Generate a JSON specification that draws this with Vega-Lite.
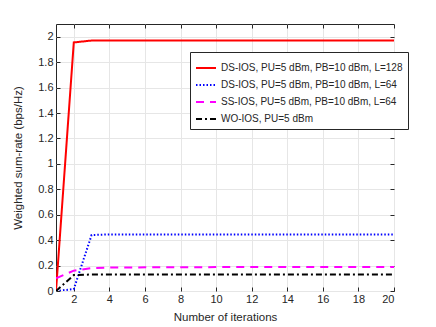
{
  "$schema": "https://vega.github.io/schema/vega-lite/v6.json",
  "autosize": "none",
  "width": 338,
  "height": 267,
  "padding": {"left": 56, "top": 24, "right": 42, "bottom": 36},
  "background": "white",
  "config": {
    "font": "Liberation Sans",
    "view": {"stroke": "#262626", "strokeWidth": 1},
    "axis": {"labelFont": "Liberation Sans", "titleFont": "Liberation Sans", "labelColor": "#262626", "titleColor": "#262626", "labelFontSize": 11, "titleFontSize": 11.5, "titleFontWeight": "normal", "domainColor": "#262626", "tickColor": "#262626", "gridColor": "#e6e6e6", "gridOpacity": 1}
  },
  "data": {
    "values": [
      {"s": "DS-IOS, PU=5 dBm, PB=10 dBm, L=128", "x": 1, "y": 0},
      {"s": "DS-IOS, PU=5 dBm, PB=10 dBm, L=128", "x": 2, "y": 1.955},
      {"s": "DS-IOS, PU=5 dBm, PB=10 dBm, L=128", "x": 3, "y": 1.97},
      {"s": "DS-IOS, PU=5 dBm, PB=10 dBm, L=128", "x": 4, "y": 1.97},
      {"s": "DS-IOS, PU=5 dBm, PB=10 dBm, L=128", "x": 10, "y": 1.97},
      {"s": "DS-IOS, PU=5 dBm, PB=10 dBm, L=128", "x": 20, "y": 1.97},
      {"s": "DS-IOS, PU=5 dBm, PB=10 dBm, L=64", "x": 1, "y": 0},
      {"s": "DS-IOS, PU=5 dBm, PB=10 dBm, L=64", "x": 2, "y": 0.015},
      {"s": "DS-IOS, PU=5 dBm, PB=10 dBm, L=64", "x": 3, "y": 0.44},
      {"s": "DS-IOS, PU=5 dBm, PB=10 dBm, L=64", "x": 4, "y": 0.445},
      {"s": "DS-IOS, PU=5 dBm, PB=10 dBm, L=64", "x": 10, "y": 0.445},
      {"s": "DS-IOS, PU=5 dBm, PB=10 dBm, L=64", "x": 20, "y": 0.445},
      {"s": "SS-IOS, PU=5 dBm, PB=10 dBm, L=64", "x": 1, "y": 0.1},
      {"s": "SS-IOS, PU=5 dBm, PB=10 dBm, L=64", "x": 2, "y": 0.16},
      {"s": "SS-IOS, PU=5 dBm, PB=10 dBm, L=64", "x": 3, "y": 0.18},
      {"s": "SS-IOS, PU=5 dBm, PB=10 dBm, L=64", "x": 4, "y": 0.185},
      {"s": "SS-IOS, PU=5 dBm, PB=10 dBm, L=64", "x": 10, "y": 0.188},
      {"s": "SS-IOS, PU=5 dBm, PB=10 dBm, L=64", "x": 20, "y": 0.188},
      {"s": "WO-IOS, PU=5 dBm", "x": 1, "y": 0},
      {"s": "WO-IOS, PU=5 dBm", "x": 2, "y": 0.125},
      {"s": "WO-IOS, PU=5 dBm", "x": 3, "y": 0.13},
      {"s": "WO-IOS, PU=5 dBm", "x": 10, "y": 0.13},
      {"s": "WO-IOS, PU=5 dBm", "x": 20, "y": 0.13}
    ]
  },
  "layer": [
    {
      "mark": {"type": "line", "strokeWidth": 2, "clip": true},
      "encoding": {
        "x": {"field": "x", "type": "quantitative", "scale": {"domain": [1, 20], "nice": false, "zero": false},
          "axis": {"title": "Number of iterations", "values": [2,4,6,8,10,12,14,16,18,20], "tickSize": -4, "labelPadding": 6, "titlePadding": 7, "domain": false}},
        "y": {"field": "y", "type": "quantitative", "scale": {"domain": [0, 2.1], "nice": false},
          "axis": {"title": "Weighted sum-rate (bps/Hz)", "values": [0,0.2,0.4,0.6,0.8,1,1.2,1.4,1.6,1.8,2], "format": "~g", "tickSize": -4, "labelPadding": 7, "titlePadding": 14, "domain": false}},
        "color": {"field": "s", "type": "nominal", "sort": null,
          "scale": {"domain": ["DS-IOS, PU=5 dBm, PB=10 dBm, L=128", "DS-IOS, PU=5 dBm, PB=10 dBm, L=64", "SS-IOS, PU=5 dBm, PB=10 dBm, L=64", "WO-IOS, PU=5 dBm"], "range": ["#ff0000", "#0000ff", "#ff00ff", "#000000"]},
          "legend": {"title": null, "orient": "none", "legendX": 134, "legendY": 28, "fillColor": "white", "strokeColor": "#262626", "padding": 5, "symbolType": "stroke", "symbolSize": 400, "symbolStrokeWidth": 2, "symbolOffset": 0, "labelOffset": 4, "labelFontSize": 10, "labelLimit": 400, "labelColor": "#262626", "rowPadding": 1, "labelFont": "Liberation Sans"}},
        "strokeDash": {"field": "s", "type": "nominal", "sort": null,
          "scale": {"domain": ["DS-IOS, PU=5 dBm, PB=10 dBm, L=128", "DS-IOS, PU=5 dBm, PB=10 dBm, L=64", "SS-IOS, PU=5 dBm, PB=10 dBm, L=64", "WO-IOS, PU=5 dBm"], "range": [[1, 0], [1.5, 2], [8, 6], [6, 3, 2, 3]]},
          "legend": {"title": null, "orient": "none", "legendX": 134, "legendY": 28, "fillColor": "white", "strokeColor": "#262626", "padding": 5, "symbolType": "stroke", "symbolSize": 400, "symbolStrokeWidth": 2, "symbolOffset": 0, "labelOffset": 4, "labelFontSize": 10, "labelLimit": 400, "labelColor": "#262626", "rowPadding": 1, "labelFont": "Liberation Sans"}}
      }
    },
    {
      "mark": {"type": "line", "opacity": 0},
      "encoding": {
        "x": {"field": "x", "type": "quantitative", "axis": {"orient": "top", "title": null, "labels": false, "grid": false, "values": [2,4,6,8,10,12,14,16,18,20], "tickSize": -4, "domain": false}},
        "y": {"field": "y", "type": "quantitative", "axis": {"orient": "right", "title": null, "labels": false, "grid": false, "values": [0,0.2,0.4,0.6,0.8,1,1.2,1.4,1.6,1.8,2], "tickSize": -4, "domain": false}}
      }
    }
  ],
  "resolve": {"axis": {"x": "independent", "y": "independent"}}
}
